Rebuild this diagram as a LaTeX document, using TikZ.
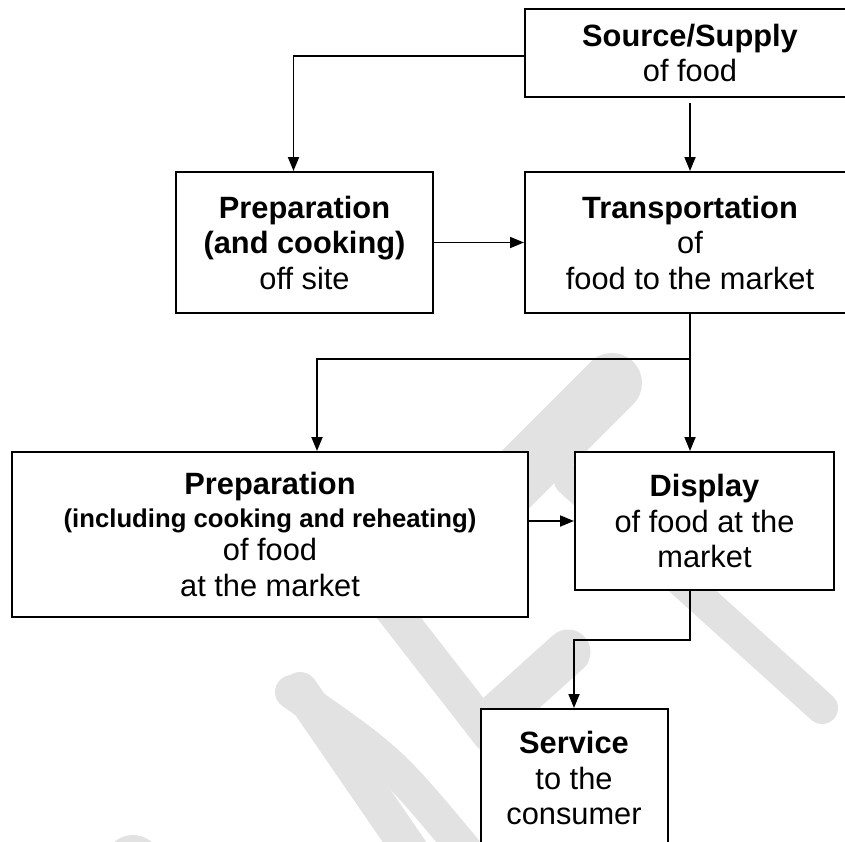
\documentclass[tikz,border=0pt]{standalone}
\usepackage{fontspec}
\setmainfont{Liberation Sans}
\usetikzlibrary{arrows.meta,positioning}
\definecolor{draftgray}{RGB}{226,226,226}
\newcommand{\bigtext}{\fontsize{30.8}{35.5}\selectfont}
\newcommand{\smalltext}{\fontsize{25.7}{31}\selectfont}

\begin{document}
\begin{tikzpicture}
    [ x=1pt, y=-1pt,
      box/.style={draw, line width=2pt, fill=white, align=center,
                  inner sep=0pt, font=\bigtext},
      flow/.style={line width=1.8pt, -{Triangle[length=14pt,width=11pt]}},
      draft/.style={draftgray, line cap=round}
    ]
    \useasboundingbox (0,0) rectangle (845,841);

    % Draft watermark
    \draw[draft, line width=60pt] (612,383) -- (430,565);
    \draw[draft, line width=35pt] (385,600) -- (490,735);
    \draw[draft, line width=32pt] (570,480) -- (822,708);
    \draw[draft, line width=45pt] (568,652) -- (498,715);
    \draw[draft, line width=36pt] (300,690) -- (410,850);
    \draw[draft, line width=34pt] (292,692) .. controls (390,760) .. (465,850);
    \fill[draftgray] (133,880) ellipse (35 and 45);

    % Boxes
    \node[box, minimum width=330pt, minimum height=88pt] (src) at (690,53)
        {\textbf{Source/Supply}\\of food};
    \node[box, minimum width=257pt, minimum height=141pt] (prepoff) at (304.5,242.5)
        {\textbf{Preparation}\\\textbf{(and cooking)}\\off site};
    \node[box, minimum width=330pt, minimum height=141pt] (trans) at (690,242.5)
        {\textbf{Transportation}\\of\\food to the market};
    \node[box, minimum width=516pt, minimum height=165pt] (prepmkt) at (270,534.5)
        {\textbf{Preparation}\\[-2.5pt]
         {\smalltext\bfseries (including cooking and reheating)}\\[-2.5pt]
         of food\\at the market};
    \node[box, minimum width=259pt, minimum height=138pt] (disp) at (704.5,521)
        {\textbf{Display}\\of food at the\\market};
    \node[box, minimum width=187pt, minimum height=138pt] (serv) at (574,778)
        {\textbf{Service}\\to the\\consumer};

    % Connectors
    \coordinate (fork) at (690,359);
    \coordinate (knee) at (690,640);
    \draw[flow] ([yshift=-3pt]src.west) -| ([xshift=-11pt]prepoff.north);
    \draw[flow] ([yshift=-5pt]src.south) -- (trans.north);
    \draw[flow] (prepoff.east) -- (trans.west);
    \draw[flow] (trans.south) -- (fork) -| ([xshift=47pt]prepmkt.north);
    \draw[flow] (fork) -- (fork |- disp.north);
    \draw[flow] (disp.west -| prepmkt.east) -- (disp.west);
    \draw[flow] (disp.south -| fork) -- (knee) -| (serv.north);

\end{tikzpicture}
\end{document}
